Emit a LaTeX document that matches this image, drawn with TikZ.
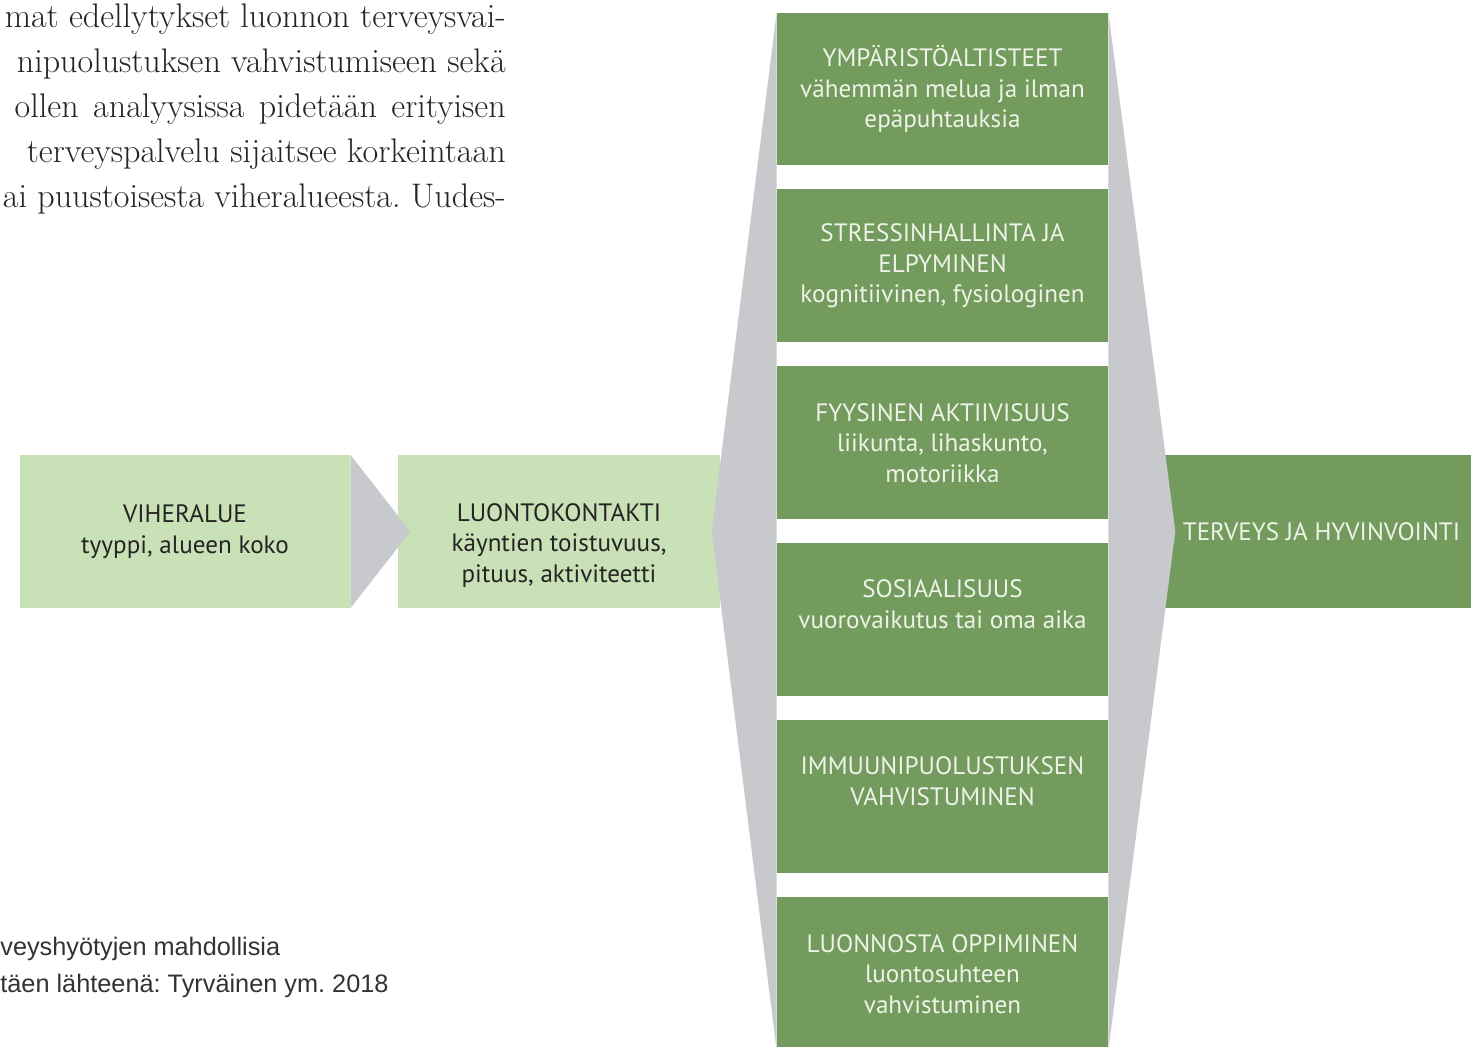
\documentclass[tikz,border=0pt]{standalone}
\usepackage{fontspec}
\newfontfamily\boxfont{PT Sans}
\newfontfamily\capfont{Liberation Sans}
\usetikzlibrary{calc}
\frenchspacing

\definecolor{dkgreen}{HTML}{739B5D}
\definecolor{ltgreen}{HTML}{C8E1B6}
\definecolor{wedgegray}{HTML}{C8C9CC}
\definecolor{palegreen}{HTML}{EEF3E8}
\definecolor{inkgray}{HTML}{262324}
\definecolor{capgray}{HTML}{333333}

\begin{document}
\begin{tikzpicture}[x=0.02cm, y=-0.02cm, node distance=3.54cm,
  gbox/.style={rectangle, fill=dkgreen, text=palegreen, minimum width=6.62cm, minimum height=3.06cm,
    align=center, inner sep=0pt, font=\boxfont\fontsize{14.3}{17.4}\selectfont},
  lbox/.style={gbox, fill=ltgreen, text=inkgray},
  wedge/.style={fill=wedgegray},
  bodyline/.style={anchor=base east, inner sep=0pt, text=inkgray, font=\fontsize{19.4}{25.6}\selectfont},
  capline/.style={anchor=base west, inner sep=0pt, text=capgray, font=\capfont\fontsize{14.4}{21}\selectfont}]
\useasboundingbox (0,0) rectangle (1471,1046);

% page text around the figure
\node[bodyline] (t1) at (506,27) {mat edellytykset luonnon terveysvai-};
\node[bodyline] (t2) at (506,72) {nipuolustuksen vahvistumiseen sekä};
\node[bodyline] (t3) at (506,117) {\makebox[9.82cm][s]{ollen analyysissa pidetään erityisen}};
\node[bodyline] (t4) at (506,162) {terveyspalvelu sijaitsee korkeintaan};
\node[bodyline] (t5) at (506,207) {ai puustoisesta viheralueesta. Uudes-};
\node[capline] (c1) at (0,955) {veyshyötyjen mahdollisia};
\node[capline] (c2) at (0,992) {täen lähteenä: Tyrväinen ym. 2018};

% chain
\node[lbox, minimum width=6.6cm] (vih) at (185,531.5) {VIHERALUE\\tyyppi, alueen koko};
\node[lbox, minimum width=6.44cm] (luonto) at (559,531.5) {\strut\\[-0.13cm]LUONTOKONTAKTI\\käyntien toistuvuus,\\pituus, aktiviteetti};
\node[gbox, minimum width=6.34cm] (terv) at (1321.5,531.5) {TERVEYS JA HYVINVOINTI};

% effects column
\node[gbox] (ymp) at (942.5,89) {YMPÄRISTÖALTISTEET\\vähemmän melua ja ilman\\epäpuhtauksia};
\node[gbox, below of=ymp] (stress) {STRESSINHALLINTA JA\\ELPYMINEN\\kognitiivinen, fysiologinen};
\node[gbox, below of=stress] (fyys) {FYYSINEN AKTIIVISUUS\\liikunta, lihaskunto,\\motoriikka};
\node[gbox, below of=fyys] (sos) {SOSIAALISUUS\\vuorovaikutus tai oma aika\\[-0.16cm]\strut};
\node[gbox, below of=sos] (imm) {IMMUUNIPUOLUSTUKSEN\\VAHVISTUMINEN\\[-0.16cm]\strut};
\node[gbox, below of=imm] (oppi) {LUONNOSTA OPPIMINEN\\luontosuhteen\\vahvistuminen};

% grey arrows
\coordinate (ltip) at ($(ymp.north west)!.5!(oppi.south west)+(-65,0)$);
\coordinate (rtip) at ($(ymp.north east)!.5!(oppi.south east)+(67,0)$);
\fill[wedge] (vih.north east) -- ($(vih.east)+(60,0)$) -- (vih.south east) -- cycle;
\fill[wedge] (ymp.north west) -- (ltip) -- (oppi.south west) -- cycle;
\fill[wedge] (ymp.north east) -- (rtip) -- (oppi.south east) -- cycle;

\end{tikzpicture}
\end{document}
